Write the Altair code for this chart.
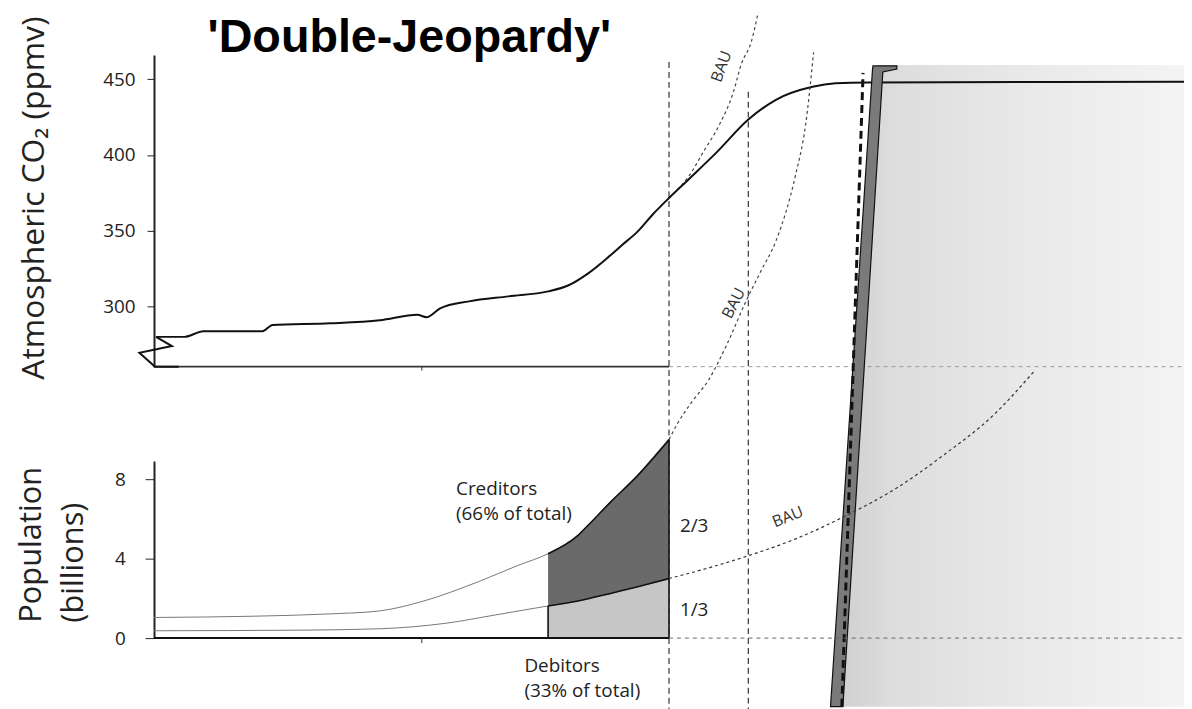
import altair as alt
import pandas as pd

# ---------------- data ----------------
# small hook at the start of the CO2 trace (drawn straight)
hook_year = [1762.0, 1750.5, 1742.9, 1758.7, 1751.0]
hook_ppm = [259.9, 259.9, 269.1, 273.5, 279.6]
# atmospheric CO2 (year, ppmv)
co2_year = [1751.0, 1764.9, 1773.9, 1802.7, 1807.5, 1835.6,
            1859.6, 1877.9, 1882.2, 1888.9, 1902.9, 1922.1, 1941.3, 1951.0, 1960.6, 1970.2,
            1977.4, 1984.6, 1992.3, 2000.0, 2010.1, 2023.1, 2038.5, 2051.9, 2069.7, 2080.8,
            2096.6, 2250.0]
co2_ppm = [279.6, 279.6, 283.4, 283.4, 287.5, 288.6,
           290.6, 294.2, 292.6, 298.5, 303.1, 306.4, 309.7, 313.6, 321.5, 332.0,
           340.6, 349.1, 360.9, 371.5, 384.6, 401.7, 423.4, 436.5, 445.1, 447.4,
           448.0, 448.4]

# CO2 business-as-usual
bau_co2_year = [2000.0, 2003.8, 2009.6, 2016.8, 2024.5, 2031.3, 2035.1, 2039.9, 2043.3]
bau_co2_ppm = [371.5, 376.6, 385.9, 402.3, 420.1, 441.8, 460.2, 474.7, 494.4]

# population (billions): total (creditors top) and debitors
tot_year = [1750, 1797.1, 1835.6, 1859.6, 1880.3, 1907.7, 1926.9, 1941.3, 1955.8, 1960.6, 1971.6, 1984.6, 2000]
tot_pop = [1.04, 1.10, 1.22, 1.37, 1.85, 2.85, 3.67, 4.25, 5.17, 5.67, 6.85, 8.17, 10.0]
deb_year = [1750, 1821.2, 1859.6, 1891.8, 1915.9, 1941.3, 1955.8, 1971.6, 1988.0, 2000]
deb_pop = [0.37, 0.40, 0.47, 0.75, 1.17, 1.62, 1.87, 2.25, 2.67, 3.0]
shade_start = 1941.3

# population business-as-usual curves
bau_hi_year = [2000, 2003.8, 2011.1, 2019.2, 2027.9, 2037.5, 2044.7, 2051.9, 2061.5, 2066.3, 2070.2]
bau_hi_pop = [10.0, 10.75, 11.9, 13.0, 14.75, 17.0, 18.5, 20.0, 23.35, 25.85, 29.5]
bau_lo_year = [2000, 2019.7, 2038.5, 2061.5, 2085.6, 2109.6, 2133.7, 2157.7, 2176.9]
bau_lo_pop = [3.0, 3.55, 4.15, 5.0, 6.15, 7.5, 9.25, 11.25, 13.4]

# diagram elements (in year / ppmv units)
wedge_ppm = [458.9, 456.9, 454.9, 34.9]
wedge_left = [2099.0, 2098.8, 2098.7, 2078.4]
wedge_right = [2110.6, 2110.6, 2103.8, 2084.4]
grey_ppm = [459.5, 34.9]
grey_left = [2101.4, 2084.1]
grey_right = [2250, 2250]
thick_dash_year = [2094.2, 2083.9]
thick_dash_ppm = [454.3, 34.9]
vline_year = [2000.0, 2038.5]
vline_top = [461.5, 441.8]
vline_bottom = [30.0, 30.0]

co2_ticks = [300, 350, 400, 450]
pop_ticks = [0, 4, 8]

FONT = "Open Sans"
INK = "#222222"

XS = alt.Scale(domain=[1750, 2250], nice=False, zero=False)
YC = alt.Scale(domain=[259.9, 466.1], range=[358.7, 45], nice=False, zero=False)
YP = alt.Scale(domain=[0, 8.92], range=[632, 453.7], nice=False, zero=False)

axis_c = alt.Axis(orient="left", values=co2_ticks, grid=False,
                  domainColor=INK, domainWidth=2, tickColor=INK, tickSize=7, tickWidth=1,
                  labelFont=FONT, labelFontSize=19, labelColor=INK, labelPadding=12,
                  title="Atmospheric CO₂ (ppmv)", titleFont=FONT, titleFontSize=32,
                  titleFontWeight="normal", titleColor=INK, titleAngle=270,
                  titleX=-111, titleY=188.5, titleAlign="center", titleBaseline="alphabetic")
axis_p = alt.Axis(orient="left", values=pop_ticks, grid=False,
                  domainColor=INK, domainWidth=2, tickColor=INK, tickSize=9, tickWidth=1,
                  labelFont=FONT, labelFontSize=19, labelColor=INK, labelPadding=20,
                  title=["Population", "(billions)"], titleFont=FONT, titleFontSize=31,
                  titleFontWeight="normal", titleColor=INK, titleAngle=270,
                  titleX=-114, titleY=616, titleAlign="left", titleBaseline="alphabetic",
                  titleLineHeight=42)


def X(f="x"):
    return alt.X(f"{f}:Q", scale=XS, axis=None)


def YCo(f="y"):
    return alt.Y(f"{f}:Q", scale=YC, axis=axis_c)


def YPo(f="y"):
    return alt.Y(f"{f}:Q", scale=YP, axis=axis_p)


# ---------------- top (CO2) group ----------------
grey = alt.Chart(pd.DataFrame({"y": grey_ppm, "xl": grey_left, "xr": grey_right})).mark_area(
    orient="horizontal",
    color=alt.Gradient(gradient="linear",
                       stops=[alt.GradientStop(color="#d0d0d0", offset=0),
                              alt.GradientStop(color="#dddddd", offset=0.15),
                              alt.GradientStop(color="#e8e8e8", offset=0.5),
                              alt.GradientStop(color="#f4f4f4", offset=1)],
                       x1=0, x2=1, y1=0, y2=0)
).encode(x=X("xl"), x2=alt.X2("xr:Q"), y=YCo())

vlines = alt.Chart(pd.DataFrame({"x": vline_year, "y": vline_top, "y2": vline_bottom})).mark_rule(
    color="#333333", strokeWidth=1.2, strokeDash=[6, 4]
).encode(x=X(), y=YCo(), y2=alt.Y2("y2:Q"))

top_ext = alt.Chart(pd.DataFrame({"x": [2000], "x2": [2250], "y": [259.9]})).mark_rule(
    color="#9a9a9a", strokeWidth=1, strokeDash=[4, 4]
).encode(x=X(), x2=alt.X2("x2:Q"), y=YCo())

top_axis = alt.Chart(pd.DataFrame({"x": [1750], "x2": [2000], "y": [259.9]})).mark_rule(
    color="#333333", strokeWidth=1.6
).encode(x=X(), x2=alt.X2("x2:Q"), y=YCo())

top_tick = alt.Chart(pd.DataFrame({"x": [1880], "y": [259.9], "y2": [257.3]})).mark_rule(
    color="#333333", strokeWidth=1
).encode(x=X(), y=YCo(), y2=alt.Y2("y2:Q"))

bau_co2 = alt.Chart(pd.DataFrame({"x": bau_co2_year, "y": bau_co2_ppm})).mark_line(
    color="#444444", strokeWidth=1.2, strokeDash=[3, 3], interpolate="monotone"
).encode(x=X(), y=YCo())

hook = alt.Chart(pd.DataFrame({"x": hook_year, "y": hook_ppm, "i": list(range(len(hook_year)))})).mark_line(
    color="#111111", strokeWidth=2
).encode(x=X(), y=YCo(), order=alt.Order("i:Q"))

co2 = alt.Chart(pd.DataFrame({"x": co2_year, "y": co2_ppm})).mark_line(
    color="#111111", strokeWidth=2, interpolate="monotone"
).encode(x=X(), y=YCo())

wedge = alt.Chart(pd.DataFrame({"y": wedge_ppm, "xl": wedge_left, "xr": wedge_right})).mark_area(
    orient="horizontal", color="#7a7a7a", stroke="#111111", strokeWidth=1.2
).encode(x=X("xl"), x2=alt.X2("xr:Q"), y=YCo())

thick_dash = alt.Chart(pd.DataFrame({"x": thick_dash_year, "y": thick_dash_ppm})).mark_line(
    color="#111111", strokeWidth=3, strokeDash=[8, 5]
).encode(x=X(), y=YCo())

title = alt.Chart(pd.DataFrame({"x": [1776.0], "y": [468.1], "t": ["'Double-Jeopardy'"]})).mark_text(
    font="Liberation Sans", fontWeight="bold", fontSize=47, align="left", baseline="alphabetic", color="#000000"
).encode(x=X(), y=YCo(), text="t:N")

bau1 = alt.Chart(pd.DataFrame({"x": [2025.5], "y": [458.5], "t": ["BAU"]})).mark_text(
    font=FONT, fontSize=16, angle=290, color="#333333", align="center", baseline="middle"
).encode(x=X(), y=YCo(), text="t:N")

bau2 = alt.Chart(pd.DataFrame({"x": [2031.5], "y": [301.8], "t": ["BAU"]})).mark_text(
    font=FONT, fontSize=16, angle=297, color="#333333", align="center", baseline="middle"
).encode(x=X(), y=YCo(), text="t:N")

top = alt.layer(grey, vlines, top_ext, top_axis, top_tick, bau_co2, hook, co2, wedge, thick_dash,
                title, bau1, bau2)

# ---------------- bottom (population) group ----------------
tot_df = pd.DataFrame({"x": tot_year, "y": tot_pop})
deb_df = pd.DataFrame({"x": deb_year, "y": deb_pop})

dark = alt.Chart(tot_df).transform_filter(alt.datum.x >= shade_start).mark_area(
    color="#6a6a6a", interpolate="monotone"
).encode(x=X(), y=YPo(), y2=alt.Y2(datum=0))

light = alt.Chart(deb_df).transform_filter(alt.datum.x >= shade_start).mark_area(
    color="#c6c6c6", interpolate="monotone"
).encode(x=X(), y=YPo(), y2=alt.Y2(datum=0))

thin_tot = alt.Chart(tot_df).mark_line(color="#777777", strokeWidth=1, interpolate="monotone").encode(x=X(), y=YPo())
thin_deb = alt.Chart(deb_df).mark_line(color="#777777", strokeWidth=1, interpolate="monotone").encode(x=X(), y=YPo())
blk_tot = alt.Chart(tot_df).transform_filter(alt.datum.x >= shade_start).mark_line(
    color="#111111", strokeWidth=1.6, interpolate="monotone").encode(x=X(), y=YPo())
blk_deb = alt.Chart(deb_df).transform_filter(alt.datum.x >= shade_start).mark_line(
    color="#111111", strokeWidth=1.6, interpolate="monotone").encode(x=X(), y=YPo())

edges = alt.Chart(pd.DataFrame({"x": [shade_start, 2000], "y": [0, 0], "y2": [deb_pop[5], tot_pop[-1]]})).mark_rule(
    color="#111111", strokeWidth=1.6
).encode(x=X(), y=YPo(), y2=alt.Y2("y2:Q"))

bot_axis = alt.Chart(pd.DataFrame({"x": [1750], "x2": [2000], "y": [0]})).mark_rule(
    color="#111111", strokeWidth=2
).encode(x=X(), x2=alt.X2("x2:Q"), y=YPo())

bot_tick = alt.Chart(pd.DataFrame({"x": [1880], "y": [0], "y2": [-0.25]})).mark_rule(
    color="#333333", strokeWidth=1
).encode(x=X(), y=YPo(), y2=alt.Y2("y2:Q"))

bot_ext = alt.Chart(pd.DataFrame({"x": [2000], "x2": [2250], "y": [0]})).mark_rule(
    color="#6a6a6a", strokeWidth=1, strokeDash=[4, 4]
).encode(x=X(), x2=alt.X2("x2:Q"), y=YPo())

bau_hi = alt.Chart(pd.DataFrame({"x": bau_hi_year, "y": bau_hi_pop})).mark_line(
    color="#444444", strokeWidth=1.2, strokeDash=[3, 3], interpolate="monotone"
).encode(x=X(), y=YPo())

bau_lo = alt.Chart(pd.DataFrame({"x": bau_lo_year, "y": bau_lo_pop})).mark_line(
    color="#333333", strokeWidth=1.2, strokeDash=[3, 3], interpolate="monotone"
).encode(x=X(), y=YPo())

labels_df = pd.DataFrame({
    "x": [1896.6, 1896.6, 2005.3, 2005.3, 1929.8, 1929.8],
    "y": [7.5, 6.25, 5.65, 1.4, -1.4, -2.65],
    "t": ["Creditors", "(66% of total)", "2/3", "1/3", "Debitors", "(33% of total)"],
})
labels = alt.Chart(labels_df).mark_text(
    font=FONT, fontSize=19, align="left", baseline="middle", color=INK
).encode(x=X(), y=YPo(), text="t:N")

bau3 = alt.Chart(pd.DataFrame({"x": [2057.7], "y": [6.1], "t": ["BAU"]})).mark_text(
    font=FONT, fontSize=16, angle=338, color="#333333", align="center", baseline="middle"
).encode(x=X(), y=YPo(), text="t:N")

bottom = alt.layer(dark, light, thin_tot, thin_deb, blk_tot, blk_deb, edges, bot_axis, bot_tick,
                   bot_ext, bau_hi, bau_lo, labels, bau3)

chart = alt.layer(top, bottom).resolve_scale(y="independent").properties(
    width=1037, height=701,
    padding={"left": 147, "top": 0, "right": 0, "bottom": 0},
    autosize=alt.AutoSizeParams(type="none"),
    background="white",
).configure_view(strokeWidth=0)

chart.save("out.html", embed_options={"renderer": "svg", "actions": False})
